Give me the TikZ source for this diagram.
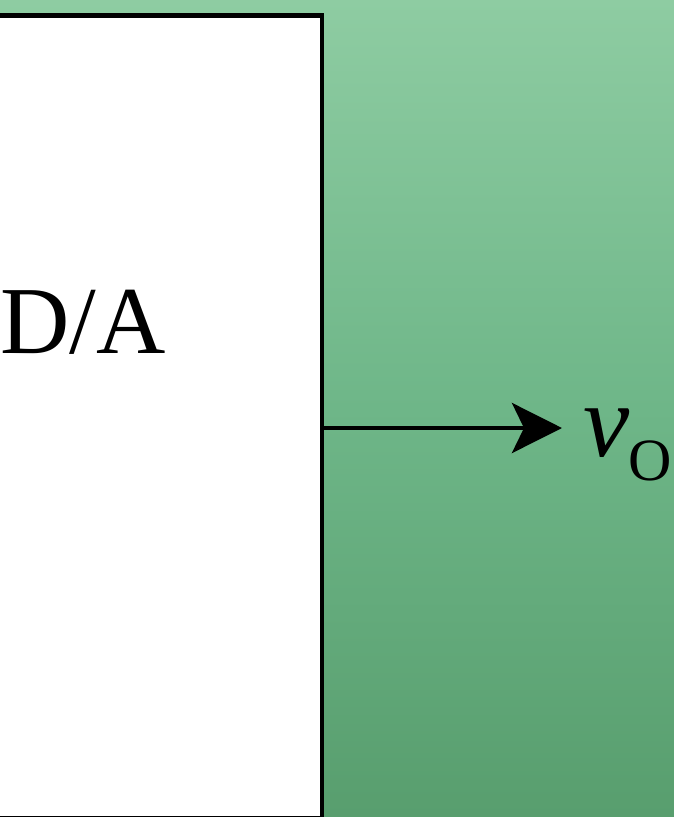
\documentclass[tikz,border=0pt]{standalone}
\usepackage{fontspec}
\setmainfont{Liberation Serif}
\usetikzlibrary{arrows.meta}
\definecolor{bgtop}{RGB}{142,204,162}
\definecolor{bgmid}{RGB}{110,182,136}
\definecolor{bgbot}{RGB}{88,158,110}
\tikzset{
  boxstyle/.style={draw=black, fill=white, line width=4.5pt, rectangle, inner sep=0pt},
  wire/.style={line width=4.5pt, -{Stealth[length=50pt,width=50pt,inset=12pt]}},
}
\begin{document}
\begin{tikzpicture}[x=1pt,y=-1pt]
\useasboundingbox (0,0) rectangle (674,817);
\shade[top color=bgtop, bottom color=bgbot, middle color=bgmid] (0,0) rectangle (674,817);
\node[boxstyle, minimum width=343pt, minimum height=803pt, anchor=north east] (box) at (324,13) {};
\node[anchor=base west, inner sep=0pt, font=\fontsize{96}{96}\selectfont] (dalabel) at (0,353) {D/A};
\coordinate (out) at (322,428);
\coordinate (tip) at (562,428);
\draw[wire] (out) -- (tip);
\node[anchor=base west, inner sep=0pt, font=\fontsize{104}{104}\selectfont] (vo) at (583,456) {\textit{v}\kern-1pt\raisebox{-24pt}{\fontsize{60}{60}\selectfont O}};
\end{tikzpicture}
\end{document}
